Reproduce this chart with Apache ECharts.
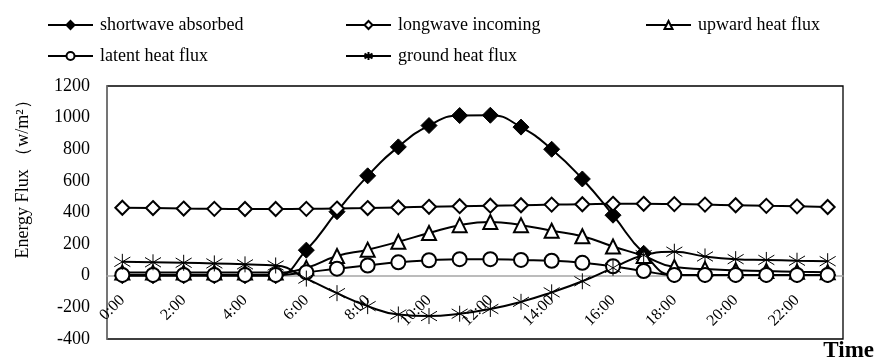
<!DOCTYPE html>
<html>
<head>
<meta charset="utf-8">
<script src="https://cdn.jsdelivr.net/npm/echarts@6/dist/echarts.min.js"></script>
<style>
  html, body { margin: 0; padding: 0; background: #fff; }
  #chart { width: 875px; height: 363px; }
</style>
</head>
<body>
<div id="chart"></div>
<script>
var hours = ['0:00', '1:00', '2:00', '3:00', '4:00', '5:00', '6:00', '7:00', '8:00', '9:00', '10:00', '11:00',
    '12:00', '13:00', '14:00', '15:00', '16:00', '17:00', '18:00', '19:00', '20:00', '21:00', '22:00', '23:00'];

// W/m2
var shortwave = [0, 0, 0, 0, 0, 0, 162, 405, 632, 815, 950, 1013, 1015, 940, 800, 612, 383, 142, 5, 5, 5, 5, 5, 5];
var longwave = [430, 428, 425, 423, 422, 422, 423, 425, 428, 432, 436, 440, 443, 446, 450, 452, 455, 455, 453, 450, 446, 442, 439, 435];
var upward = [20, 20, 20, 20, 20, 20, 50, 125, 165, 215, 270, 320, 340, 320, 285, 250, 185, 125, 55, 42, 35, 30, 25, 22];
var latent = [5, 5, 5, 5, 5, 5, 22, 45, 65, 85, 98, 105, 105, 100, 95, 82, 60, 30, 5, 5, 5, 5, 5, 5];
var ground = [88, 85, 82, 78, 72, 65, -18, -110, -192, -245, -255, -240, -210, -165, -105, -35, 50, 130, 152, 122, 105, 100, 95, 92];

var names = ['shortwave absorbed', 'longwave incoming', 'upward heat flux', 'latent heat flux', 'ground heat flux'];

var yMin = -400, yMax = 1200, yStep = 200;

var FONT = "'Liberation Serif', 'Times New Roman', serif";
var STAR = 'path://M0,-1L0,1M-0.9,-0.6L0.9,0.6M-0.9,0.6L0.9,-0.6';

var GRID_TOP = 86, GRID_BOTTOM = 24, H = 363;
// move the category axis (line + labels) up to y = 0
var zeroOffset = -(H - GRID_TOP - GRID_BOTTOM) * (0 - yMin) / (yMax - yMin);

function mkSeries(name, data, symbol, size) {
    return {
        name: name,
        type: 'line',
        data: data,
        smooth: true,
        symbol: symbol,
        symbolSize: size,
        showAllSymbol: true,
        lineStyle: { color: '#000', width: 2 },
        itemStyle: { color: '#000', borderColor: '#000', borderWidth: 1 }
    };
}

// legend item positions [left, top]
var legendPos = [[42, 11], [340, 11], [640, 11], [42, 42], [340, 42]];
var legends = legendPos.map(function (p, i) {
    return {
        data: [names[i]],
        left: p[0],
        top: p[1],
        itemWidth: 45,
        itemHeight: 10,
        itemGap: 0,
        textStyle: { fontFamily: FONT, fontSize: 18, color: '#000', padding: [0, 0, 0, 2] }
    };
});

var myChart = echarts.init(document.getElementById('chart'));
myChart.setOption({
    animation: false,
    backgroundColor: '#fff',
    legend: legends,
    grid: {
        left: 107, right: 32, top: GRID_TOP, bottom: GRID_BOTTOM,
        outerBoundsMode: 'none', containLabel: false,
        show: true, borderColor: '#000', borderWidth: 1.3, backgroundColor: 'transparent'
    },
    xAxis: {
        type: 'category',
        data: hours,
        boundaryGap: true,
        position: 'bottom',
        offset: zeroOffset,
        axisLine: { onZero: false, lineStyle: { color: '#a6a6a6', width: 1.5 } },
        axisTick: { show: false },
        axisLabel: {
            interval: 1, rotate: 45, margin: 22,
            fontFamily: FONT, fontSize: 16, color: '#000'
        },
        splitLine: { show: false }
    },
    yAxis: {
        type: 'value',
        min: yMin, max: yMax, interval: yStep,
        axisLine: { show: true, onZero: false, lineStyle: { color: '#7f7f7f', width: 1.5 } },
        axisTick: { show: false },
        axisLabel: {
            margin: 17, fontFamily: FONT, fontSize: 18, color: '#000',
            formatter: function (v) { return String(v); }
        },
        splitLine: { show: false }
    },
    graphic: [
        {
            type: 'text', x: 23, y: 175, rotation: Math.PI / 2,
            style: {
                text: 'Energy Flux （w/m²）', fontFamily: FONT, fontSize: 18, fill: '#000',
                textAlign: 'center', textVerticalAlign: 'middle'
            }
        },
        {
            type: 'text', right: 1, top: 340,
            style: { text: 'Time', fontFamily: FONT, fontSize: 23, fontWeight: 'bold', fill: '#000' }
        }
    ],
    series: [
        mkSeries(names[0], shortwave, 'diamond', 16),
        mkSeries(names[1], longwave, 'emptyDiamond', 14),
        mkSeries(names[2], upward, 'emptyTriangle', 14),
        mkSeries(names[3], latent, 'emptyCircle', 14),
        mkSeries(names[4], ground, STAR, 16)
    ]
});
</script>
</body>
</html>
